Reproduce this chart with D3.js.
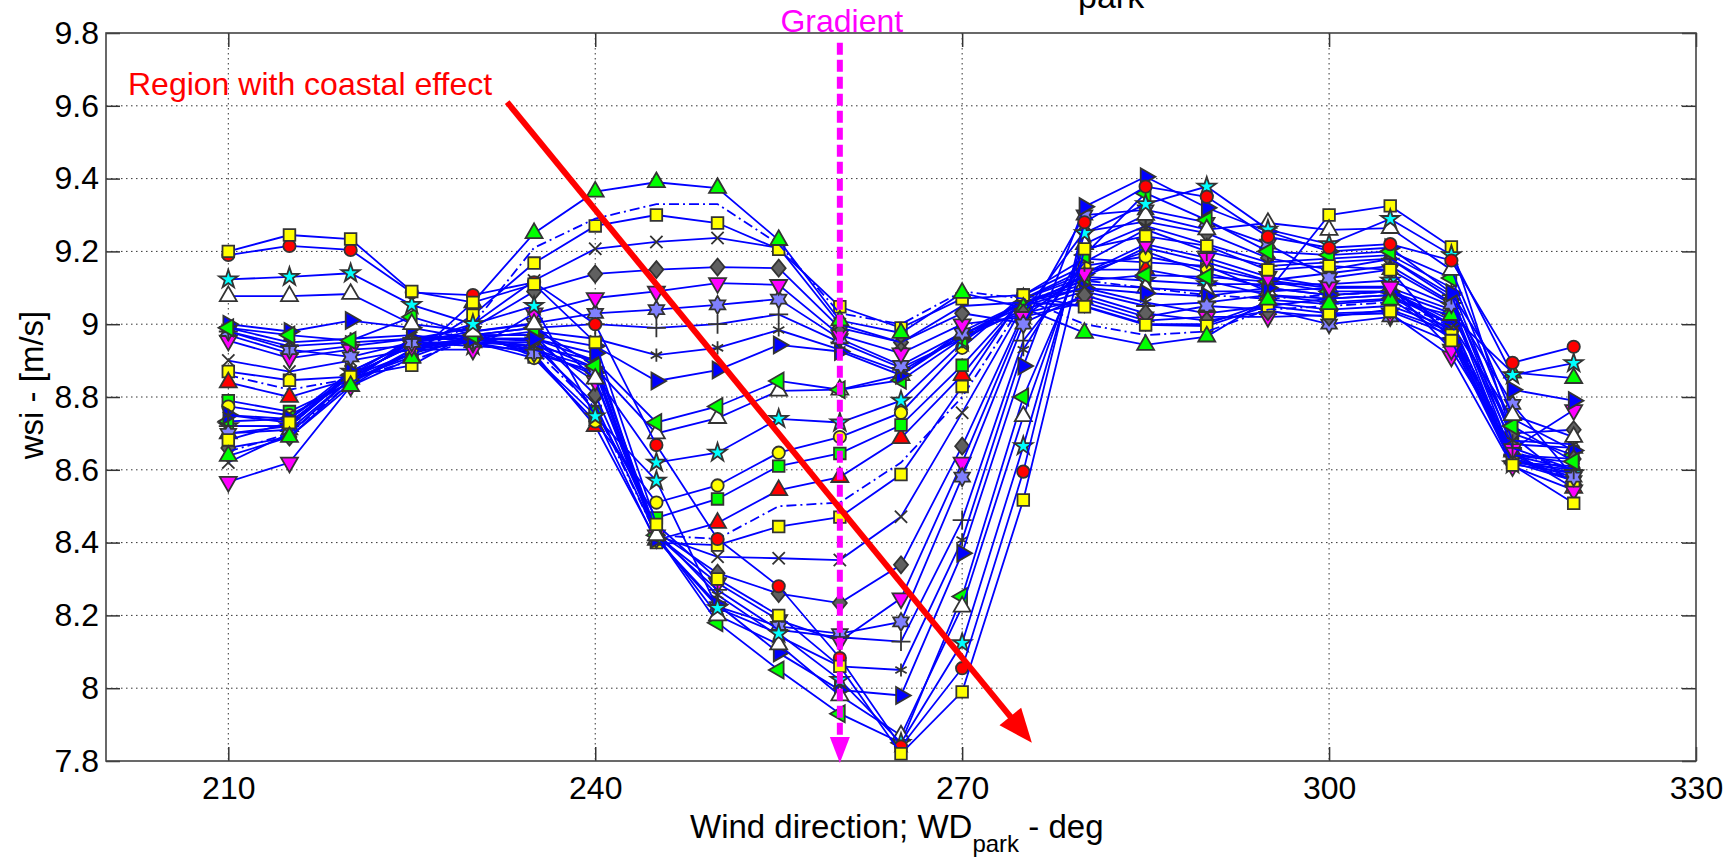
<!DOCTYPE html>
<html>
<head>
<meta charset="utf-8">
<script src="https://cdn.jsdelivr.net/npm/d3@7"></script>
<style>
  body { margin: 0; background: #fff; }
  svg { display: block; font-family: "Liberation Sans", Arial, sans-serif; }
</style>
</head>
<body>
<svg id="chart" width="1735" height="857"></svg>
<script>
// wind direction bins (deg)
const windDir = [210,215,220,225,230,235,240,245,250,255,260,265,270,275,280,285,290,295,300,305,310,315,320];
const xTicks = [210, 240, 270, 300, 330];
const yTicks = [7.8, 8, 8.2, 8.4, 8.6, 8.8, 9, 9.2, 9.4, 9.6, 9.8];

// one array per turbine row / group, wsi in m/s
const ySquareB  = [9.20,9.245,9.234,9.09,9.06,9.11,8.95,8.45,8.30,8.20,8.06,7.82,7.99,8.517,9.207,9.242,9.215,9.149,9.16,9.149,8.955,8.613,8.508];
const redCircle = [9.19,9.215,9.204,9.087,9.08,9.115,9.00,8.668,8.41,8.28,8.083,7.84,8.055,8.595,9.28,9.378,9.35,9.24,9.21,9.22,9.175,8.894,8.938];
const starB     = [9.123,9.13,9.14,9.053,9.0,9.05,8.747,8.57,8.22,8.15,8.023,7.85,8.124,8.665,9.25,9.33,9.378,9.26,9.22,9.289,9.19,8.86,8.893];
const whiteUpB  = [9.077,9.077,9.083,9.0,8.98,9.0,8.85,8.42,8.20,8.12,7.98,7.87,8.224,8.747,9.22,9.30,9.26,9.278,9.259,9.264,9.149,8.75,8.69];
const greenLeftB= [8.99,8.97,8.955,9.02,8.97,8.99,8.885,8.42,8.18,8.05,7.93,7.85,8.252,8.80,9.19,9.36,9.286,9.20,9.19,9.20,9.127,8.72,8.623];
const blueRightB= [9.00,8.98,9.01,8.99,8.96,8.96,8.92,8.41,8.23,8.097,7.995,7.98,8.371,8.885,9.323,9.405,9.32,9.254,9.20,9.21,9.086,8.82,8.79];
const asterB    = [8.99,8.95,8.96,8.97,8.95,8.94,8.90,8.43,8.256,8.143,8.06,8.05,8.407,8.93,9.20,9.27,9.22,9.17,9.18,9.19,9.10,8.68,8.67];
const plusB     = [8.98,8.94,8.95,8.96,8.96,8.93,8.88,8.42,8.27,8.16,8.14,8.128,8.462,8.955,9.17,9.26,9.20,9.16,9.17,9.18,9.08,8.66,8.60];
const hexB      = [8.98,8.93,8.91,8.95,8.95,8.92,8.87,8.41,8.224,8.17,8.15,8.182,8.58,9.00,9.30,9.314,9.28,9.22,9.127,9.15,9.055,8.78,8.58];
const magDownB  = [8.955,8.907,8.93,8.94,8.95,8.95,8.844,8.42,8.289,8.187,8.13,8.247,8.62,9.02,9.14,9.22,9.182,9.13,9.103,9.103,8.93,8.657,8.764];
const diamondB  = [8.97,8.92,8.94,8.96,8.97,8.97,8.806,8.43,8.316,8.26,8.234,8.339,8.665,9.03,9.255,9.282,9.25,9.182,9.15,9.179,9.07,8.70,8.71];
const crossB    = [8.90,8.87,8.90,8.93,8.96,8.94,8.78,8.42,8.361,8.357,8.352,8.471,8.757,9.05,9.13,9.21,9.17,9.12,9.14,9.16,9.06,8.64,8.62];

const greenUp   = [8.638,8.69,8.83,8.907,9.06,9.25,9.364,9.39,9.374,9.231,9.01,8.976,9.086,9.045,8.976,8.943,8.966,9.067,9.055,9.067,9.025,8.867,8.852];
const dashDotA  = [8.65,8.70,8.84,8.92,9.0,9.21,9.29,9.33,9.33,9.22,9.03,9.00,9.09,9.07,9.0,8.97,8.98,9.04,9.05,9.06,9.0,8.65,8.60];
const ySquareA  = [8.682,8.73,8.856,8.92,9.025,9.168,9.27,9.30,9.278,9.206,9.048,8.99,9.07,9.08,9.048,8.998,8.995,9.05,9.03,9.035,8.97,8.62,8.57];
const crossA    = [8.62,8.70,8.85,8.95,9.0,9.12,9.207,9.226,9.237,9.21,9.0,8.95,9.05,9.06,9.05,9.0,9.0,9.06,9.04,9.05,8.99,8.63,8.59];
const diamondA  = [8.66,8.69,8.84,8.96,8.99,9.09,9.138,9.15,9.157,9.154,8.99,8.95,9.03,9.003,9.08,9.03,9.01,9.035,9.02,9.04,8.98,8.64,8.63];
const magDownA  = [8.567,8.62,8.83,8.93,8.93,9.03,9.072,9.09,9.113,9.108,8.97,8.92,9.0,9.02,9.06,9.01,9.02,9.02,9.025,9.03,8.911,8.61,8.544];
const hexA      = [8.70,8.71,8.85,8.95,8.98,9.003,9.03,9.04,9.053,9.069,8.96,8.887,8.976,9.03,9.07,9.02,9.05,9.04,9.0,9.02,8.95,8.63,8.57];
const plusA     = [8.72,8.72,8.86,8.96,8.97,8.99,9.0,8.99,9.0,9.027,8.95,8.88,8.96,9.04,9.09,9.05,9.06,9.08,9.06,9.07,8.96,8.64,8.60];
const asterA    = [8.75,8.73,8.86,8.94,8.96,8.98,8.96,8.915,8.935,8.984,8.93,8.87,8.97,9.05,9.10,9.06,9.03,9.05,9.07,9.08,8.97,8.62,8.61];
const blueRightA= [8.75,8.74,8.87,8.95,8.97,8.97,8.94,8.844,8.874,8.943,8.925,8.86,8.98,9.06,9.10,9.085,9.077,9.10,9.08,9.09,9.0,8.74,8.653];
const greenLeftA= [8.733,8.74,8.86,8.94,8.96,8.96,8.90,8.73,8.774,8.844,8.82,8.846,8.96,9.06,9.12,9.135,9.13,9.117,9.09,9.09,9.03,8.70,8.64];
const whiteUpA  = [8.70,8.72,8.86,8.94,8.95,8.95,8.88,8.70,8.742,8.817,8.82,8.86,8.97,9.06,9.11,9.10,9.09,9.09,9.10,9.10,9.04,8.67,8.66];
const starA     = [8.72,8.72,8.87,8.95,8.94,8.93,8.86,8.62,8.647,8.74,8.73,8.79,8.95,9.07,9.13,9.12,9.11,9.11,9.11,9.12,9.05,8.615,8.59];
const yCircle   = [8.774,8.75,8.84,8.93,8.95,8.907,8.733,8.51,8.557,8.647,8.69,8.757,8.935,9.08,9.16,9.186,9.154,9.12,9.10,9.103,8.976,8.62,8.60];
const greenSq   = [8.79,8.76,8.84,8.92,8.96,8.955,8.76,8.468,8.52,8.61,8.645,8.723,8.887,9.07,9.14,9.20,9.14,9.10,9.08,9.09,9.01,8.63,8.58];
const redUp     = [8.84,8.80,8.85,8.91,8.97,8.92,8.72,8.407,8.454,8.544,8.58,8.687,8.86,9.07,9.15,9.15,9.12,9.08,9.07,9.08,8.998,8.65,8.55];
const ySquareC  = [8.87,8.846,8.856,8.887,8.98,8.91,8.75,8.40,8.393,8.444,8.47,8.587,8.829,9.08,9.18,9.17,9.16,9.09,9.30,9.325,9.212,8.693,8.56];
const dashDotB  = [8.86,8.82,8.85,8.90,8.96,8.93,8.77,8.42,8.41,8.50,8.51,8.62,8.80,9.06,9.12,9.10,9.08,9.07,9.08,9.09,8.99,8.64,8.57];

// annotations in data units
const gradientX = 260, gradientTop = 9.773;
const coastArrow = [[232.8, 9.61], [275.7, 7.85]];

const series = [
  {v: dashDotB, m: null, dash: "10,4,2,4"},
  {v: ySquareC, m: "s", fill: "#ffff00"},
  {v: redUp, m: "^", fill: "#ff0000"},
  {v: greenSq, m: "s", fill: "#00ff00"},
  {v: yCircle, m: "o", fill: "#ffff00"},
  {v: starA, m: "p", fill: "#00ffff"},
  {v: whiteUpA, m: "^", fill: "#ffffff"},
  {v: greenLeftA, m: "<", fill: "#00ff00"},
  {v: blueRightA, m: ">", fill: "#0000ff"},
  {v: asterA, m: "*"},
  {v: plusA, m: "+"},
  {v: hexA, m: "h", fill: "#8080ff"},
  {v: magDownA, m: "v", fill: "#ff00ff"},
  {v: diamondA, m: "d", fill: "#606060"},
  {v: crossA, m: "x"},
  {v: ySquareA, m: "s", fill: "#ffff00"},
  {v: dashDotA, m: null, dash: "10,4,2,4"},
  {v: greenUp, m: "^", fill: "#00ff00"},
  {v: crossB, m: "x"},
  {v: diamondB, m: "d", fill: "#606060"},
  {v: magDownB, m: "v", fill: "#ff00ff"},
  {v: hexB, m: "h", fill: "#8080ff"},
  {v: plusB, m: "+"},
  {v: asterB, m: "*"},
  {v: blueRightB, m: ">", fill: "#0000ff"},
  {v: greenLeftB, m: "<", fill: "#00ff00"},
  {v: whiteUpB, m: "^", fill: "#ffffff"},
  {v: starB, m: "p", fill: "#00ffff"},
  {v: redCircle, m: "o", fill: "#ff0000"},
  {v: ySquareB, m: "s", fill: "#ffff00"}
];

const svg = d3.select("#chart");
const pL = 106, pR = 1696, pT = 33, pB = 761;

const x = d3.scaleLinear().domain([200, 330]).range([pL, pR]);
const y = d3.scaleLinear().domain([7.8, 9.8]).range([pB, pT]);

svg.append("rect").attr("width", 1735).attr("height", 857).attr("fill", "#fff");

// dotted grid
const grid = svg.append("g").attr("stroke", "#333").attr("stroke-width", 1).attr("stroke-dasharray", "1.5,3.5");
grid.selectAll(".gx").data(xTicks.filter(d => d < 330)).join("line")
  .attr("x1", d => x(d)).attr("x2", d => x(d)).attr("y1", pT).attr("y2", pB);
grid.selectAll(".gy").data(yTicks.filter(d => d > 7.8 && d < 9.8)).join("line")
  .attr("x1", pL).attr("x2", pR).attr("y1", d => y(d)).attr("y2", d => y(d));

// marker shapes
function hexagram(r) {
  const pts = [];
  for (let i = 0; i < 12; i++) {
    const a = -Math.PI / 2 + i * Math.PI / 6;
    const rr = i % 2 === 0 ? r : r / Math.sqrt(3);
    pts.push([rr * Math.cos(a), rr * Math.sin(a)]);
  }
  return "M" + pts.map(p => p.join(",")).join("L") + "Z";
}
function markerPath(m) {
  switch (m) {
    case "s": return d3.symbol(d3.symbolSquare, 135)();
    case "o": return d3.symbol(d3.symbolCircle, 120)();
    case "^": case "v": case "<": case ">": return d3.symbol(d3.symbolTriangle, 125)();
    case "d": return "M0,-8.5L7,0L0,8.5L-7,0Z";
    case "p": return d3.symbol(d3.symbolStar, 105)();
    case "h": return hexagram(9);
    case "x": return d3.symbol(d3.symbolX, 100)();
    case "+": return d3.symbol(d3.symbolPlus, 120)();
    case "*": return d3.symbol(d3.symbolAsterisk, 120)();
  }
}
const rot = {"v": 180, "<": -90, ">": 90};
const strokeOnly = {"x": 1, "+": 1, "*": 1};

const line = d3.line().x((d, i) => x(windDir[i])).y(d => y(d));

series.forEach(s => {
  const g = svg.append("g");
  g.append("path").datum(s.v)
    .attr("d", line)
    .attr("fill", "none")
    .attr("stroke", "#0000ff")
    .attr("stroke-width", 1.8)
    .attr("stroke-dasharray", s.dash || null);
  if (!s.m) return;
  g.selectAll("path.mk").data(s.v).join("path")
    .attr("class", "mk")
    .attr("d", markerPath(s.m))
    .attr("transform", (d, i) => `translate(${x(windDir[i])},${y(d)}) rotate(${rot[s.m] || 0})`)
    .attr("fill", strokeOnly[s.m] ? "none" : s.fill)
    .attr("stroke", "#333")
    .attr("stroke-width", 1.8);
});

// axes with inward ticks on all four sides
const fontSize = 32;
const axL = svg.append("g").attr("transform", `translate(${pL},0)`)
  .call(d3.axisLeft(y).tickValues(yTicks).tickFormat(d3.format("")).tickSize(-14).tickSizeOuter(0).tickPadding(7));
const axR = svg.append("g").attr("transform", `translate(${pR},0)`)
  .call(d3.axisRight(y).tickValues(yTicks).tickSize(-14).tickSizeOuter(0).tickFormat(""));
const axB = svg.append("g").attr("transform", `translate(0,${pB})`)
  .call(d3.axisBottom(x).tickValues(xTicks).tickSize(-14).tickSizeOuter(0).tickPadding(15));
const axT = svg.append("g").attr("transform", `translate(0,${pT})`)
  .call(d3.axisTop(x).tickValues(xTicks).tickSize(-14).tickSizeOuter(0).tickFormat(""));
[axL, axR, axB, axT].forEach(a => {
  a.select(".domain").remove();
  a.selectAll("line").attr("stroke", "#333").attr("stroke-width", 1.5);
  a.selectAll("text").attr("font-size", fontSize).attr("fill", "#000")
    .attr("font-family", '"Liberation Sans", Arial, sans-serif');
});
axB.selectAll("text").attr("dy", "0.72em");

svg.append("rect")
  .attr("x", pL).attr("y", pT).attr("width", pR - pL).attr("height", pB - pT)
  .attr("fill", "none").attr("stroke", "#444").attr("stroke-width", 1.6);

// axis titles
const xl = svg.append("text").attr("x", 690).attr("y", 838).attr("font-size", 33);
xl.append("tspan").text("Wind direction; WD");
xl.append("tspan").attr("dy", 14).attr("font-size", 24).text("park");
xl.append("tspan").attr("dy", -14).text(" - deg");

svg.append("text")
  .attr("transform", `translate(43,${(pT + pB) / 2 - 12}) rotate(-90)`)
  .attr("text-anchor", "middle").attr("font-size", 33)
  .text("wsi - [m/s]");

// clipped title subscript at top edge
svg.append("text").attr("x", 1078).attr("y", 8).attr("font-size", 34).text("park");

// gradient marker: dashed magenta line with arrow head
const gx = x(gradientX);
svg.append("line")
  .attr("x1", gx).attr("x2", gx).attr("y1", y(gradientTop)).attr("y2", y(7.8) - 20)
  .attr("stroke", "#ff00ff").attr("stroke-width", 6).attr("stroke-dasharray", "12,5");
svg.append("path")
  .attr("d", `M${gx - 10},${y(7.8) - 24}L${gx + 10},${y(7.8) - 24}L${gx},${y(7.8) + 2}Z`)
  .attr("fill", "#ff00ff");
svg.append("text").attr("x", gx + 2).attr("y", 32).attr("text-anchor", "middle")
  .attr("font-size", 32).attr("fill", "#ff00ff").text("Gradient");

// coastal effect arrow
const p0 = [x(coastArrow[0][0]), y(coastArrow[0][1])];
const p1 = [x(coastArrow[1][0]), y(coastArrow[1][1])];
const dx = p1[0] - p0[0], dy = p1[1] - p0[1];
const len = Math.hypot(dx, dy), ux = dx / len, uy = dy / len;
const headL = 34, headW = 14;
const hb = [p1[0] - ux * headL, p1[1] - uy * headL];
svg.append("line")
  .attr("x1", p0[0]).attr("y1", p0[1]).attr("x2", hb[0] + ux * 4).attr("y2", hb[1] + uy * 4)
  .attr("stroke", "#ff0000").attr("stroke-width", 6);
svg.append("path")
  .attr("d", `M${p1[0]},${p1[1]}L${hb[0] - uy * headW},${hb[1] + ux * headW}L${hb[0] + uy * headW},${hb[1] - ux * headW}Z`)
  .attr("fill", "#ff0000");
svg.append("text").attr("x", 128).attr("y", 95).attr("font-size", 32).attr("fill", "#ff0000")
  .text("Region with coastal effect");
</script>
</body>
</html>
